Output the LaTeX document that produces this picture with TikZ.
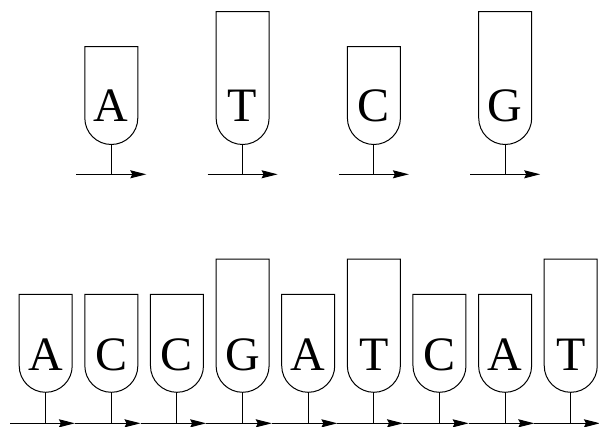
\documentclass[tikz,border=0pt]{standalone}
\usepackage{fontspec}
\setmainfont{Liberation Serif}
\usetikzlibrary{arrows.meta}
\begin{document}
\begin{tikzpicture}[x=1pt,y=1pt,
  cupline/.style={line width=1pt,line join=miter},
  stemline/.style={line width=1pt},
  baseline/.style={line width=1pt,-{Stealth[length=16pt,width=8pt,inset=2pt]}},
  letter/.style={font=\fontsize{48}{48}\selectfont,anchor=base,inner sep=0pt}]
\useasboundingbox (0,0) rectangle (599,426);
\def\r{26.5}
% ---------- top row ----------
\foreach \name/\cx/\yt/\ch in {tA/111.3/379.3/A, tT/242.6/414.3/T, tC/373.9/379.3/C, tG/505.2/414.3/G}{
  \draw[cupline] (\cx-\r,\yt) -- (\cx+\r,\yt) -- (\cx+\r,281.5+\r)
     arc[start angle=0,end angle=-180,radius=\r] -- cycle;
  \node[letter] (\name) at (\cx,304.3) {\ch};
  \coordinate (\name-cup) at (\cx,281.5);
  \coordinate (\name-base) at (\cx,251.7);
  \coordinate (\name-s) at (\cx-35,251.7);
  \coordinate (\name-e) at (\cx+35,251.7);
  \draw[stemline] (\name-cup) -- (\name-base);
  \draw[baseline] (\name-s) -- (\name-e);
}
% ---------- bottom row ----------
\coordinate (b0-e) at (10,2.7);
\foreach \i/\yt/\ch [count=\k from 1] in {0/131.7/A,1/131.7/C,2/131.7/C,3/167/G,4/131.7/A,5/167/T,6/131.7/C,7/131.7/A,8/167/T}{
  \pgfmathsetmacro{\cx}{45.7+65.63*\i}
  \draw[cupline] (\cx-\r,\yt) -- (\cx+\r,\yt) -- (\cx+\r,33.7+\r)
     arc[start angle=0,end angle=-180,radius=\r] -- cycle;
  \node[letter] (b\k) at (\cx,56) {\ch};
  \coordinate (b\k-cup) at (\cx,33.7);
  \coordinate (b\k-base) at (\cx,2.7);
  \coordinate (b\k-e) at (\cx+29.2,2.7);
  \draw[stemline] (b\k-cup) -- (b\k-base);
}
\foreach \k [evaluate=\k as \p using int(\k-1)] in {1,...,9}{
  \draw[baseline] (b\p-e) -- (b\k-e);
}
\end{tikzpicture}
\end{document}
